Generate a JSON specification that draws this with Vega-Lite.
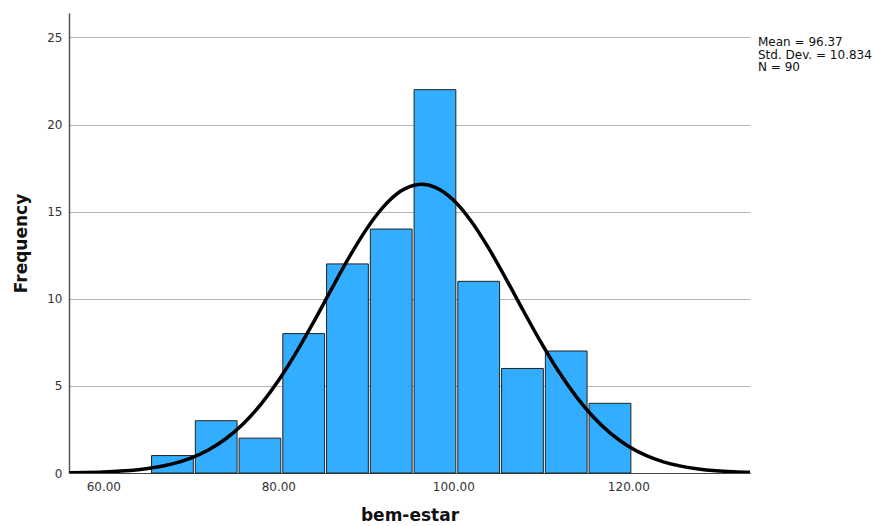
{
  "$schema": "https://vega.github.io/schema/vega-lite/v6.json",
  "width": 681,
  "height": 460,
  "autosize": "none",
  "padding": {"left": 69, "top": 13, "right": 127, "bottom": 53},
  "background": "white",
  "config": {"view": {"stroke": null}, "font": "DejaVu Sans"},
  "title": {
    "text": ["Mean = 96.37", "Std. Dev. = 10.834", "N = 90"],
    "orient": "top",
    "anchor": "end",
    "frame": "group",
    "align": "left",
    "baseline": "top",
    "dx": 8,
    "dy": 22,
    "offset": -39,
    "fontSize": 12,
    "fontWeight": "normal",
    "lineHeight": 12.5,
    "color": "#111111",
    "font": "DejaVu Sans"
  },
  "datasets": {
    "bins": [
      {"bin_start": 65.4, "bin_end": 70.4, "count": 1},
      {"bin_start": 70.4, "bin_end": 75.4, "count": 3},
      {"bin_start": 75.4, "bin_end": 80.4, "count": 2},
      {"bin_start": 80.4, "bin_end": 85.4, "count": 8},
      {"bin_start": 85.4, "bin_end": 90.4, "count": 12},
      {"bin_start": 90.4, "bin_end": 95.4, "count": 14},
      {"bin_start": 95.4, "bin_end": 100.4, "count": 22},
      {"bin_start": 100.4, "bin_end": 105.4, "count": 11},
      {"bin_start": 105.4, "bin_end": 110.4, "count": 6},
      {"bin_start": 110.4, "bin_end": 115.4, "count": 7},
      {"bin_start": 115.4, "bin_end": 120.4, "count": 4}
    ],
    "curve": [
      {"value": 56.1, "frequency": 0.017},
      {"value": 58, "frequency": 0.031},
      {"value": 60, "frequency": 0.059},
      {"value": 62, "frequency": 0.108},
      {"value": 64, "frequency": 0.191},
      {"value": 66, "frequency": 0.326},
      {"value": 68, "frequency": 0.537},
      {"value": 70, "frequency": 0.857},
      {"value": 72, "frequency": 1.320},
      {"value": 74, "frequency": 1.966},
      {"value": 76, "frequency": 2.829},
      {"value": 78, "frequency": 3.936},
      {"value": 80, "frequency": 5.291},
      {"value": 82, "frequency": 6.875},
      {"value": 84, "frequency": 8.635},
      {"value": 86, "frequency": 10.48},
      {"value": 88, "frequency": 12.30},
      {"value": 90, "frequency": 13.94},
      {"value": 92, "frequency": 15.27},
      {"value": 94, "frequency": 16.18},
      {"value": 96, "frequency": 16.56},
      {"value": 96.37, "frequency": 16.57},
      {"value": 98, "frequency": 16.38},
      {"value": 100, "frequency": 15.67},
      {"value": 102, "frequency": 14.48},
      {"value": 104, "frequency": 12.93},
      {"value": 106, "frequency": 11.16},
      {"value": 108, "frequency": 9.31},
      {"value": 110, "frequency": 7.51},
      {"value": 112, "frequency": 5.85},
      {"value": 114, "frequency": 4.41},
      {"value": 116, "frequency": 3.21},
      {"value": 118, "frequency": 2.258},
      {"value": 120, "frequency": 1.536},
      {"value": 122, "frequency": 1.009},
      {"value": 124, "frequency": 0.641},
      {"value": 126, "frequency": 0.394},
      {"value": 128, "frequency": 0.234},
      {"value": 130, "frequency": 0.134},
      {"value": 132, "frequency": 0.074},
      {"value": 133.9, "frequency": 0.041}
    ]
  },
  "layer": [
    {
      "data": {"name": "bins"},
      "mark": {"type": "rect", "fill": "#33adff", "stroke": "#222222", "strokeWidth": 1, "xOffset": 1, "x2Offset": -1},
      "encoding": {
        "x": {
          "field": "bin_start",
          "type": "quantitative",
          "scale": {"domain": [56.08, 133.9], "nice": false, "zero": false},
          "axis": {
            "values": [60, 80, 100, 120],
            "format": ".2f",
            "grid": false,
            "ticks": false,
            "domain": true,
            "domainColor": "#444444",
            "domainWidth": 1,
            "labelFontSize": 12,
            "labelColor": "#333333",
            "labelPadding": 8,
            "labelFont": "DejaVu Sans",
            "title": "bem-estar",
            "titleFont": "DejaVu Sans",
            "titleFontSize": 17,
            "titleFontWeight": "bold",
            "titleColor": "#111111",
            "titlePadding": 15
          }
        },
        "x2": {"field": "bin_end"},
        "y": {
          "field": "count",
          "type": "quantitative",
          "scale": {"domain": [0, 26.4], "nice": false},
          "axis": {
            "values": [0, 5, 10, 15, 20, 25],
            "grid": true,
            "gridColor": "#b4b4b4",
            "gridWidth": 1,
            "ticks": false,
            "domain": true,
            "domainColor": "#555555",
            "domainWidth": 1.5,
            "labelFontSize": 12,
            "labelColor": "#333333",
            "labelPadding": 7,
            "labelFont": "DejaVu Sans",
            "title": "Frequency",
            "titleFont": "DejaVu Sans",
            "titleFontSize": 17,
            "titleFontWeight": "bold",
            "titleColor": "#111111",
            "titlePadding": 16
          }
        },
        "y2": {"datum": 0}
      }
    },
    {
      "data": {"name": "curve"},
      "mark": {"type": "line", "color": "#000000", "strokeWidth": 3.5, "interpolate": "monotone", "clip": true},
      "encoding": {
        "x": {"field": "value", "type": "quantitative"},
        "y": {"field": "frequency", "type": "quantitative"}
      }
    }
  ]
}
